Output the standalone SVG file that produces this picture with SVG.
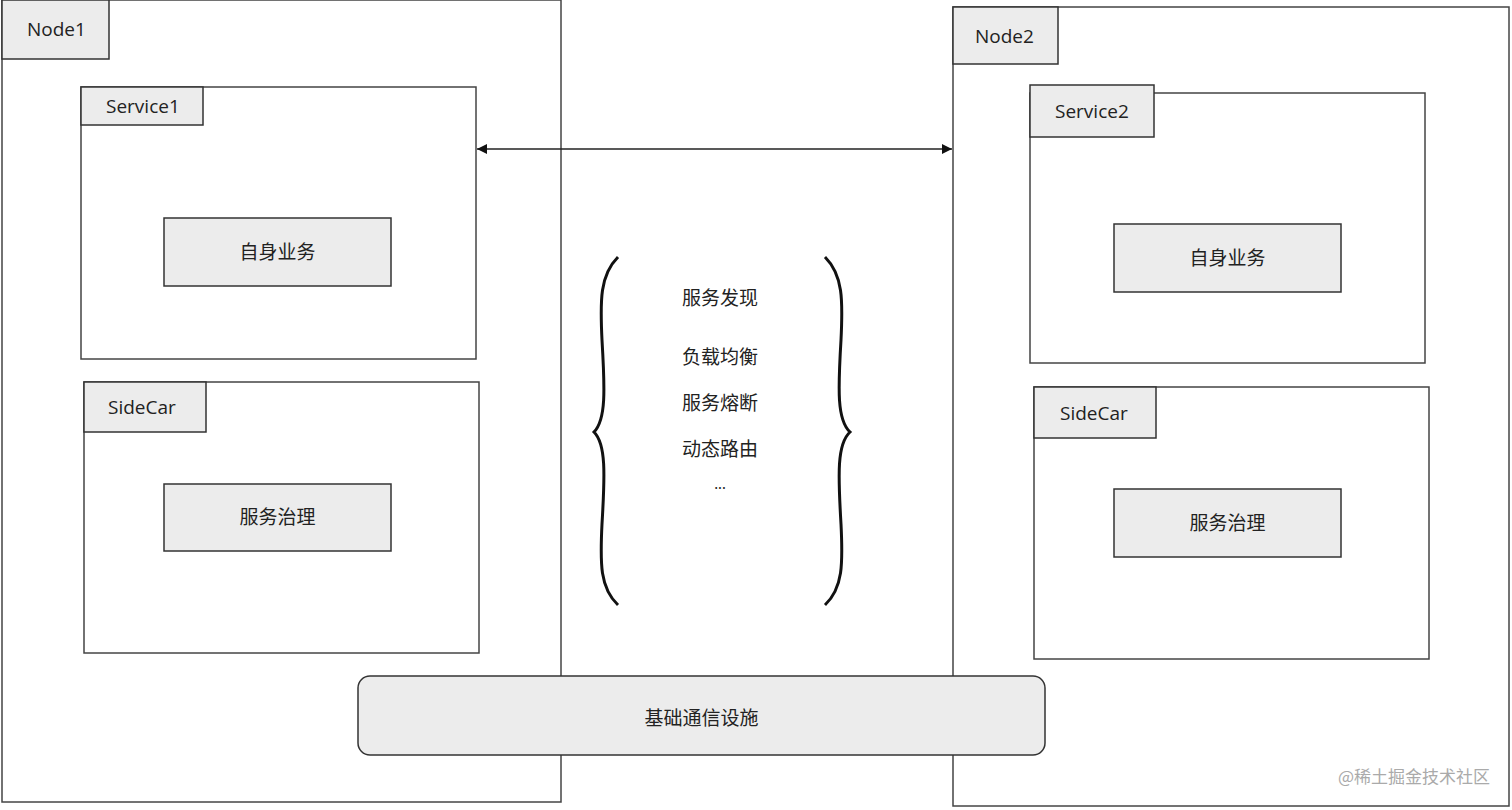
<svg xmlns="http://www.w3.org/2000/svg" width="1512" height="810" viewBox="0 0 1512 810">
<defs>
<style>
.frame{fill:#fff;stroke:#444;stroke-width:1.5}
.lbl{fill:#ececec;stroke:#333;stroke-width:1.5}
.t{font-family:"Open Sans","Noto Sans CJK SC",sans-serif;font-size:19px;fill:#222}
.c{font-family:"Noto Sans CJK SC",sans-serif;font-size:19px;fill:#222;text-anchor:middle}
.brace{fill:none;stroke:#111;stroke-width:3}
</style>
<marker id="ah" viewBox="0 0 10 10" refX="10" refY="5" markerWidth="10" markerHeight="10" markerUnits="userSpaceOnUse" orient="auto-start-reverse">
<path d="M0,0 L10,5 L0,10 z" fill="#111"/>
</marker>
</defs>
<rect width="1512" height="810" fill="#fff"/>
<g id="node1">
<rect class="frame" x="2" y="0" width="559" height="802"/>
<rect class="lbl" x="2" y="0" width="107" height="59"/>
<text class="t" x="27" y="36">Node1</text>
</g>
<g id="node2">
<rect class="frame" x="953" y="7" width="556" height="799"/>
<rect class="lbl" x="953" y="7" width="105" height="57"/>
<text class="t" x="975" y="43">Node2</text>
</g>
<g id="service1">
<rect class="frame" x="81" y="87" width="395" height="272"/>
<rect class="lbl" x="81" y="87" width="122" height="38"/>
<text class="t" x="106" y="113">Service1</text>
</g>
<g id="biz1">
<rect class="lbl" x="164" y="218" width="227" height="68"/>
<text class="c" x="277.5" y="259">自身业务</text>
</g>
<g id="sidecar1">
<rect class="frame" x="84" y="382" width="395" height="271"/>
<rect class="lbl" x="84" y="382" width="122" height="50"/>
<text class="t" x="108" y="414">SideCar</text>
</g>
<g id="gov1">
<rect class="lbl" x="164" y="484" width="227" height="67"/>
<text class="c" x="277.5" y="524">服务治理</text>
</g>
<g id="service2">
<rect class="frame" x="1030" y="93" width="395" height="270"/>
<rect class="lbl" x="1030" y="85" width="124" height="52"/>
<text class="t" x="1055" y="118">Service2</text>
</g>
<g id="biz2">
<rect class="lbl" x="1114" y="224" width="227" height="68"/>
<text class="c" x="1227.5" y="265">自身业务</text>
</g>
<g id="sidecar2">
<rect class="frame" x="1034" y="387" width="395" height="272"/>
<rect class="lbl" x="1034" y="387" width="122" height="51"/>
<text class="t" x="1060" y="420">SideCar</text>
</g>
<g id="gov2">
<rect class="lbl" x="1114" y="489" width="227" height="68"/>
<text class="c" x="1227.5" y="530">服务治理</text>
</g>
<g id="features">
<path class="brace" d="M618,257 C600,275 600,300 602,340 C605,390 606,420 594,432 C606,444 605,474 602,524 C600,564 600,588 618,605"/>
<path class="brace" d="M825,257 C843,275 843,300 841,340 C838,390 837,420 850,432 C837,444 838,474 841,524 C843,564 843,588 825,605"/>
<text class="c" x="720" y="305">服务发现</text>
<text class="c" x="720" y="364">负载均衡</text>
<text class="c" x="720" y="410">服务熔断</text>
<text class="c" x="720" y="456">动态路由</text>
<text class="c" x="720" y="489" style="font-size:14px">...</text>
</g>
<g id="infra">
<rect class="lbl" x="358" y="676" width="687" height="79" rx="12"/>
<text class="c" x="701.5" y="725">基础通信设施</text>
</g>
<g id="connectors">
<line x1="477" y1="149" x2="952" y2="149" stroke="#222" stroke-width="1.5" marker-start="url(#ah)" marker-end="url(#ah)"/>
</g>
<text x="1490" y="783" style="font-family:'Noto Sans CJK SC',sans-serif;font-size:17px;fill:#aaa;text-anchor:end">@稀土掘金技术社区</text>
</svg>
